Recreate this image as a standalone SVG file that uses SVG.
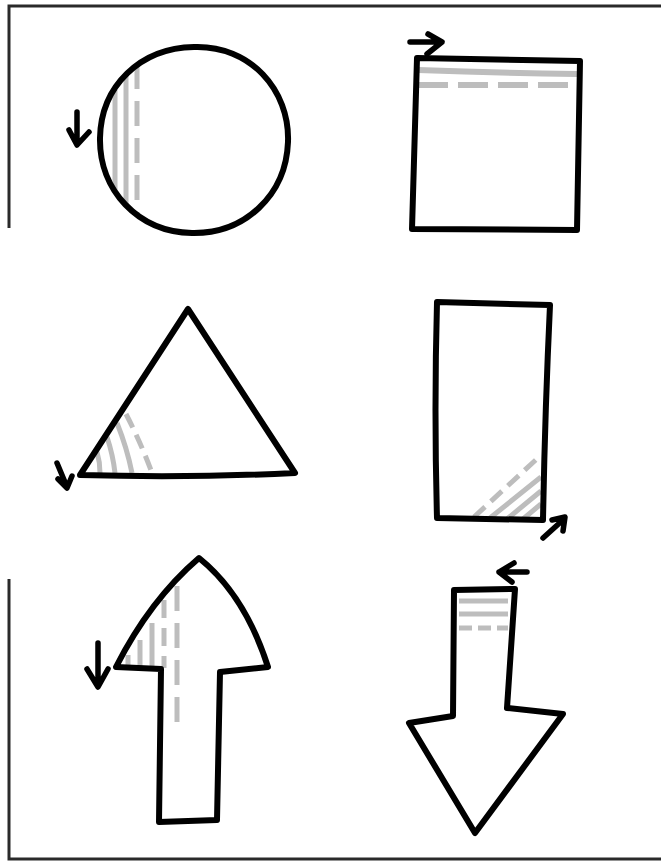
<svg xmlns="http://www.w3.org/2000/svg" width="661" height="861" viewBox="0 0 661 861">
<style>
.frame{stroke:#2a2a2a;stroke-width:3;fill:none}
.shape{stroke:#000;stroke-width:6;fill:none;stroke-linejoin:round;stroke-linecap:round}
.shade{stroke:#bdbdbd;stroke-width:5;fill:none;stroke-linecap:butt}
.dash{stroke:#bdbdbd;stroke-width:5;fill:none;stroke-dasharray:15 8}
.dir{stroke:#000;stroke-width:5.5;fill:none;stroke-linecap:round;stroke-linejoin:round}
</style>
<rect width="661" height="861" fill="#fff"/>
<g id="frame">
<path class="frame" d="M9 228 V6 H661"/>
<path class="frame" d="M9 579 V859 H661"/>
</g>
<g id="circle">
<path class="shade" d="M115 90 V190 M126 75 V205"/>
<path class="dash" style="stroke-dasharray:25 12" d="M137 64 V213"/>
<path class="shape" d="M194 47 C250 45 290 90 288 142 C286 195 245 234 192 233 C138 232 99 190 100 138 C101 86 140 48 194 47 Z"/>
<path class="dir" d="M77 112 V144 M69 130 L77 145 L89 132"/>
</g>
<g id="square">
<path class="shade" style="stroke-width:6" d="M418 70 Q500 73 577 74"/>
<path class="dash" style="stroke-width:6;stroke-dasharray:30 10" d="M418 85 H577"/>
<path class="shape" d="M417 58 L580 61 L577 230 L412 229 Z"/>
<path class="dir" d="M410 42 H442 M428 34 L442 42 L427 54"/>
</g>
<g id="triangle">
<path class="shade" d="M97 452 Q100 462 100 473 M107 437 Q113 455 115 473 M117 423 Q127 448 132 473"/>
<path class="dash" d="M126 414 Q141 443 152 473"/>
<path class="shape" d="M188 309 L295 473 Q190 478 80 475 Z"/>
<path class="dir" d="M57 463 L67 487 M58 479 L67 488 L72 476"/>
</g>
<g id="rectangle">
<path class="shade" d="M490 518 L541 477 M507 519 L541 491 M523 519 L541 504"/>
<path class="dash" d="M474 517 L540 456"/>
<path class="shape" d="M437 302 L550 305 Q545 410 543 520 L437 518 Q434 410 437 302 Z"/>
<path class="dir" d="M543 538 L564 519 M552 520 L565 517 L563 531"/>
</g>
<g id="up-arrow">
<path class="shade" d="M128 655 V668 M140 640 V668 M152 623 V668"/>
<path class="dash" style="stroke-dasharray:18 10" d="M164 600 V668"/>
<path class="dash" style="stroke-dasharray:25 12" d="M177 586 V726"/>
<path class="shape" d="M199 558 Q245 595 268 667 L220 672 L217 820 L159 822 L161 669 L116 667 Q150 600 199 558 Z"/>
<path class="dir" d="M98 643 V686 M87 669 L98 687 L108 669"/>
</g>
<g id="down-arrow">
<path class="shade" d="M459 601 H508 M459 614 H508"/>
<path class="dash" style="stroke-dasharray:13 6" d="M459 628 H508"/>
<path class="shape" d="M454 590 L515 589 L507 708 L563 714 L475 833 L409 723 L453 716 Z"/>
<path class="dir" d="M527 572 H499 M514 563 L499 572 L512 582"/>
</g>
</svg>
